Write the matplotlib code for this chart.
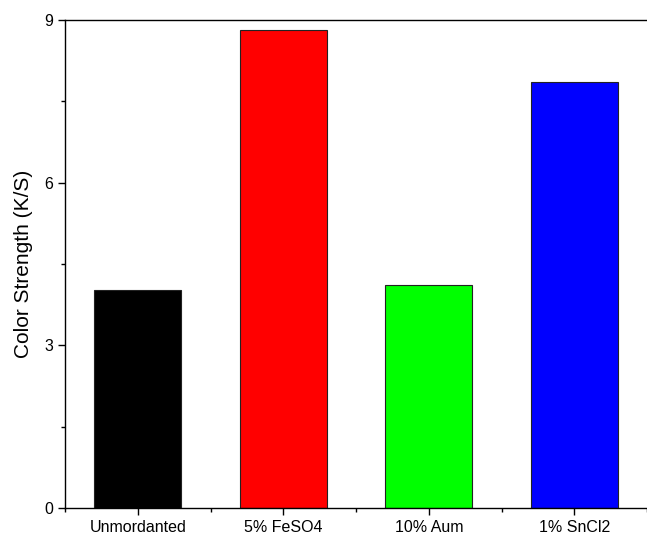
import matplotlib
matplotlib.use("Agg")
import matplotlib.pyplot as plt
from matplotlib.ticker import MultipleLocator

plt.rcParams["font.family"] = ["Liberation Sans", "DejaVu Sans"]

CATEGORIES = ["Unmordanted", "5% FeSO4", "10% Aum", "1% SnCl2"]
STRENGTH = [4.02, 8.82, 4.12, 7.86]
COLORS = ["#000000", "#ff0000", "#00ff00", "#0000ff"]

fig = plt.figure(figsize=(6.47, 5.39), dpi=100)
ax = fig.add_axes([0.1005, 0.0575, 0.8995, 0.9055])

positions = list(range(1, len(CATEGORIES) + 1))
ax.bar(positions, STRENGTH, width=0.6, color=COLORS, edgecolor="#222222", linewidth=0.8)

ax.set_xlim(0.5, 4.5)
ax.set_ylim(0, 9)
ax.set_xticks(positions)
ax.set_xticklabels(CATEGORIES)
ax.xaxis.set_minor_locator(MultipleLocator(1, offset=0.5))
ax.yaxis.set_major_locator(MultipleLocator(3))
ax.yaxis.set_minor_locator(MultipleLocator(1.5))

ax.tick_params(which="major", direction="out", length=5, width=1, labelsize=11.5)
ax.tick_params(which="minor", direction="out", length=3, width=1)
ax.tick_params(axis="x", which="both", top=False)
ax.tick_params(axis="y", which="both", right=False)

for side in ["left", "bottom", "top"]:
    ax.spines[side].set_linewidth(1.0)
ax.spines["right"].set_visible(False)

ax.set_ylabel("Color Strength (K/S)", fontsize=15, labelpad=8)

fig.savefig("out.png", dpi=100)
